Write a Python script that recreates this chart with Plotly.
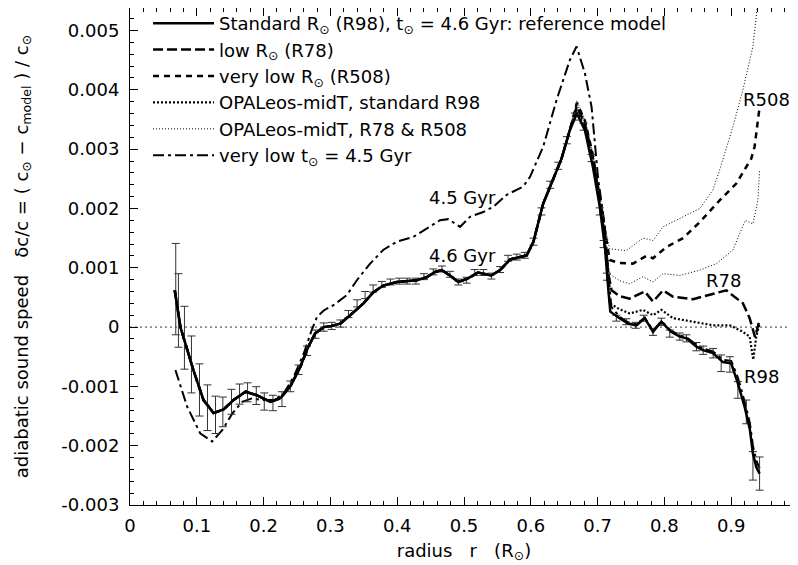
import plotly.graph_objects as go

# ---------------- data (dc values in units of 1e-3) ----------------
# shared inner part (all non-4.5Gyr models coincide here)
r_core = [0.067, 0.0755, 0.095, 0.110, 0.125, 0.140, 0.155, 0.173, 0.190, 0.210, 0.225,
          0.240, 0.255, 0.267, 0.277, 0.290, 0.302, 0.315, 0.3296, 0.3495, 0.3644, 0.3794,
          0.3994, 0.4293, 0.444, 0.4567, 0.4667, 0.479, 0.4915, 0.506, 0.521, 0.541, 0.554,
          0.569, 0.594, 0.604, 0.6185, 0.6335, 0.646, 0.6584]
dc_core = [0.62, 0.00, -0.73, -1.23, -1.45, -1.39, -1.23, -1.09, -1.15, -1.26, -1.20,
           -1.00, -0.67, -0.33, -0.11, 0.00, 0.02, 0.06, 0.20, 0.40, 0.59, 0.70,
           0.76, 0.79, 0.84, 0.93, 0.96, 0.87, 0.76, 0.82, 0.92, 0.87, 0.96,
           1.14, 1.21, 1.44, 2.08, 2.50, 2.84, 3.32]

# standard model (R98, 4.6 Gyr) outer part
r_std_tail = [0.669, 0.681, 0.693, 0.7033, 0.711, 0.7157, 0.719, 0.733, 0.7456, 0.758, 0.7706,
              0.783, 0.7955, 0.810, 0.823, 0.833, 0.848, 0.8577, 0.8727, 0.8876, 0.900, 0.910,
              0.920, 0.928, 0.9325, 0.9375, 0.9425]
dc_std_tail = [3.60, 3.32, 2.70, 2.03, 1.35, 0.68, 0.26, 0.15, 0.06, 0.03, 0.15,
               -0.08, 0.09, -0.08, -0.16, -0.19, -0.33, -0.39, -0.44, -0.59, -0.61, -0.95,
               -1.34, -1.73, -2.13, -2.36, -2.47]

# low R (R78)
r_r78_tail = [0.669, 0.681, 0.693, 0.703, 0.711, 0.716, 0.721, 0.733, 0.748, 0.7706, 0.783,
              0.798, 0.813, 0.843, 0.873, 0.8927, 0.9175, 0.9276, 0.9357, 0.9425]
dc_r78_tail = [3.72, 3.42, 2.85, 2.15, 1.45, 0.90, 0.62, 0.52, 0.48, 0.60, 0.43,
               0.62, 0.51, 0.47, 0.56, 0.62, 0.40, 0.15, -0.17, 0.12]

# very low R (R508)
r_r508_tail = [0.669, 0.681, 0.693, 0.703, 0.711, 0.718, 0.733, 0.753, 0.773, 0.783, 0.803,
               0.828, 0.853, 0.883, 0.9076, 0.930, 0.935, 0.940, 0.9425]
dc_r508_tail = [3.78, 3.48, 2.90, 2.20, 1.60, 1.13, 1.08, 1.07, 1.20, 1.16, 1.35,
                1.50, 1.77, 2.14, 2.42, 2.84, 3.04, 3.55, 3.71]

# OPALeos-midT, standard R98
r_opal98_tail = [0.669, 0.681, 0.693, 0.703, 0.711, 0.716, 0.718, 0.733, 0.748, 0.768, 0.783,
                 0.7955, 0.813, 0.843, 0.873, 0.898, 0.9175, 0.9276, 0.933, 0.9375, 0.9425]
dc_opal98_tail = [3.65, 3.36, 2.75, 2.07, 1.38, 0.70, 0.40, 0.30, 0.23, 0.29, 0.20,
                  0.29, 0.15, 0.09, 0.03, 0.03, -0.08, -0.16, -0.55, -0.16, 0.06]

# OPALeos-midT, R78
r_opal78_tail = [0.669, 0.681, 0.693, 0.703, 0.711, 0.718, 0.733, 0.748, 0.768, 0.783, 0.798,
                 0.823, 0.853, 0.878, 0.9026, 0.921, 0.9325, 0.940, 0.9425]
dc_opal78_tail = [3.75, 3.45, 2.88, 2.18, 1.50, 0.90, 0.78, 0.73, 0.85, 0.76, 0.90,
                  0.87, 0.96, 1.07, 1.30, 1.80, 1.74, 2.14, 2.65]

# OPALeos-midT, R508
r_opal508_tail = [0.669, 0.681, 0.693, 0.703, 0.711, 0.718, 0.743, 0.768, 0.783, 0.798, 0.833,
                  0.853, 0.8727, 0.8827, 0.9026, 0.9175, 0.9325, 0.9375, 0.941]
dc_opal508_tail = [3.82, 3.50, 2.92, 2.25, 1.70, 1.32, 1.29, 1.50, 1.46, 1.69, 1.89,
                   2.00, 2.31, 2.65, 3.38, 4.00, 4.73, 5.29, 5.60]

# very low age t = 4.5 Gyr
r_45 = [0.068, 0.0855, 0.105, 0.123, 0.138, 0.153, 0.168, 0.183, 0.1976, 0.215, 0.230,
        0.245, 0.260, 0.272, 0.280, 0.290, 0.3046, 0.3247, 0.3396, 0.3595, 0.379, 0.3994,
        0.424, 0.444, 0.464, 0.4765, 0.494, 0.509, 0.529, 0.544, 0.564, 0.5886, 0.5987,
        0.6185, 0.6386, 0.6584, 0.6685, 0.681, 0.691, 0.7008, 0.711, 0.7157, 0.7206,
        0.733, 0.7456, 0.758, 0.7706, 0.783, 0.7955, 0.810, 0.823, 0.833, 0.848, 0.8577,
        0.8727, 0.8876, 0.900, 0.910, 0.920, 0.928, 0.9325, 0.9375, 0.9425]
dc_45 = [-0.725, -1.34, -1.79, -1.93, -1.74, -1.46, -1.26, -1.20, -1.23, -1.23, -1.12,
         -0.84, -0.45, -0.05, 0.17, 0.28, 0.37, 0.54, 0.79, 1.07, 1.30, 1.44,
         1.52, 1.66, 1.80, 1.82, 1.69, 1.86, 1.94, 2.03, 2.23, 2.37, 2.53,
         3.04, 3.83, 4.50, 4.73, 4.28, 3.71, 2.50, 1.69, 0.96, 0.34,
         0.17, 0.08, 0.05, 0.16, -0.06, 0.10, -0.06, -0.14, -0.17, -0.30, -0.36,
         -0.41, -0.55, -0.57, -0.85, -1.25, -1.62, -2.00, -2.25, -2.38]

# helioseismic data points with error bars
r_obs = [0.0685, 0.0725, 0.0815, 0.092, 0.104, 0.116, 0.128, 0.139, 0.152, 0.164, 0.176,
         0.189, 0.201, 0.214, 0.2275, 0.240, 0.2525, 0.265, 0.2775, 0.290, 0.302, 0.315,
         0.327, 0.340, 0.352, 0.364, 0.377, 0.390, 0.403, 0.415, 0.428, 0.440, 0.454,
         0.467, 0.479, 0.4915, 0.504, 0.516, 0.529, 0.541, 0.554, 0.566, 0.579, 0.591,
         0.604, 0.616, 0.629, 0.641, 0.654, 0.666, 0.679, 0.691, 0.7033, 0.709, 0.714,
         0.728, 0.743, 0.757, 0.769, 0.783, 0.7955, 0.808, 0.823, 0.833, 0.848, 0.858,
         0.873, 0.885, 0.898, 0.910, 0.9226, 0.9325, 0.9425]
dc_obs = [0.64, 0.28, -0.18, -0.63, -1.06, -1.36, -1.48, -1.43, -1.26, -1.13, -1.10,
          -1.155, -1.255, -1.28, -1.215, -1.00, -0.72, -0.40, -0.12, 0.00, 0.02, 0.06,
          0.22, 0.40, 0.54, 0.65, 0.72, 0.76, 0.775, 0.775, 0.775, 0.85, 0.93,
          0.98, 0.89, 0.76, 0.79, 0.92, 0.92, 0.86, 0.97, 1.16, 1.18, 1.21,
          1.44, 1.95, 2.40, 2.72, 3.15, 3.55, 3.38, 2.85, 1.95, 1.40, 0.85,
          0.15, 0.09, 0.03, 0.15, -0.08, 0.09, -0.11, -0.16, -0.19, -0.33, -0.39,
          -0.44, -0.61, -0.63, -1.06, -1.43, -2.34, -2.47]
err_obs = [0.77, 0.62, 0.53, 0.48, 0.44, 0.385, 0.315, 0.25, 0.21, 0.17, 0.16,
           0.15, 0.145, 0.13, 0.125, 0.09, 0.08, 0.08, 0.07, 0.07, 0.06, 0.06,
           0.06, 0.06, 0.06, 0.06, 0.05, 0.05, 0.05, 0.05, 0.05, 0.05, 0.05,
           0.05, 0.05, 0.05, 0.05, 0.05, 0.05, 0.05, 0.05, 0.05, 0.05, 0.05,
           0.06, 0.06, 0.06, 0.06, 0.06, 0.06, 0.06, 0.06, 0.06, 0.06, 0.06,
           0.05, 0.05, 0.05, 0.05, 0.06, 0.06, 0.06, 0.06, 0.06, 0.07, 0.07,
           0.08, 0.14, 0.13, 0.14, 0.20, 0.24, 0.28]

y_tickvals = [-0.003, -0.002, -0.001, 0, 0.001, 0.002, 0.003, 0.004, 0.005]
y_ticktext = ["-0.003", "-0.002", "-0.001", "0", "0.001", "0.002", "0.003", "0.004", "0.005"]
x_tickvals = [0, 0.1, 0.2, 0.3, 0.4, 0.5, 0.6, 0.7, 0.8, 0.9, 1.0]
x_ticktext = ["0", "0.1", "0.2", "0.3", "0.4", "0.5", "0.6", "0.7", "0.8", "0.9", "1"]

S = 1e-3
def sc(v):
    return [a * S for a in v]

FONT = "DejaVu Sans, Liberation Sans, Arial, sans-serif"
SUN = "\u2299"
NB = "\u00a0"

fig = go.Figure()

def add_line(x, y, name, dash, width, group):
    fig.add_trace(go.Scatter(x=x, y=sc(y), mode="lines", name=name,
                             line=dict(color="black", width=width, dash=dash),
                             showlegend=False, legendgroup=group, hoverinfo="skip"))

# order of drawing: thin first, solid on top
add_line(r_core + r_opal508_tail, dc_core + dc_opal508_tail,
         "OPALeos-midT, R508", "1px,2px", 1, "opal78")
add_line(r_core + r_opal78_tail, dc_core + dc_opal78_tail,
         "OPALeos-midT, R78", "1px,2px", 1, "opal78")
add_line(r_core + r_opal98_tail, dc_core + dc_opal98_tail,
         "OPALeos-midT, standard R98", "2px,2px", 2.2, "opal98")
add_line(r_core + r_r508_tail, dc_core + dc_r508_tail,
         "very low R (R508)", "6px,5px", 2.5, "r508")
add_line(r_core + r_r78_tail, dc_core + dc_r78_tail,
         "low R (R78)", "10px,4px", 2.5, "r78")
add_line(r_45, dc_45, "very low t = 4.5 Gyr", "11px,4px,3px,4px", 2, "t45")

fig.add_trace(go.Scatter(x=r_obs, y=sc(dc_obs), mode="markers", showlegend=False,
                         marker=dict(size=1, color="rgba(0,0,0,0)"),
                         error_y=dict(type="data", array=sc(err_obs), visible=True,
                                      color="#333333", thickness=1, width=4),
                         hoverinfo="skip"))

add_line(r_core + r_std_tail, dc_core + dc_std_tail, "Standard", "solid", 2.5, "std")

# legend entries (in reference order)
legend_items = [
    (f"Standard R<sub>{SUN}</sub> (R98), t<sub>{SUN}</sub> = 4.6 Gyr: reference model", "solid", 2.5),
    (f"low R<sub>{SUN}</sub> (R78)", "10px,4px", 2.5),
    (f"very low R<sub>{SUN}</sub> (R508)", "6px,5px", 2.5),
    ("OPALeos-midT, standard R98", "2px,2px", 2.2),
    ("OPALeos-midT, R78 &amp; R508", "1px,2px", 1),
    (f"very low t<sub>{SUN}</sub> = 4.5 Gyr", "11px,4px,3px,4px", 2),
]
for i, (nm, ds, w) in enumerate(legend_items):
    fig.add_trace(go.Scatter(x=[None], y=[None], mode="lines", name=nm,
                             line=dict(color="black", width=w, dash=ds),
                             legendgroup=f"leg{i}", showlegend=True))

fig.add_hline(y=0, line=dict(color="#333333", width=1, dash="2px,3px"), layer="below")

ann_font = dict(family=FONT, size=18, color="black")
for txt, ax, ay in [("4.5 Gyr", 0.498, 2.19), ("4.6 Gyr", 0.497, 1.20), ("R508", 0.953, 3.84),
                    ("R78", 0.888, 0.78), ("R98", 0.945, -0.83)]:
    fig.add_annotation(x=ax, y=ay * S, text=txt, showarrow=False, font=ann_font,
                       xanchor="center", yanchor="middle")

axis_common = dict(showline=True, linecolor="black", linewidth=1, mirror="allticks",
                   ticks="inside", tickcolor="black", tickwidth=1, ticklen=8,
                   showgrid=False, zeroline=False, automargin=False,
                   tickfont=dict(family=FONT, size=18, color="black"))

fig.update_layout(
    width=798, height=565,
    margin=dict(l=122, r=8, t=0, b=68, autoexpand=False),
    paper_bgcolor="white", plot_bgcolor="white",
    font=dict(family=FONT, size=18, color="black"),
    showlegend=True,
    legend=dict(x=0.027, y=1.006, xanchor="left", yanchor="top", bgcolor="rgba(0,0,0,0)",
                font=dict(family=FONT, size=18, color="black"), tracegroupgap=0,
                itemwidth=61),
    xaxis=dict(range=[0, 1], tickvals=x_tickvals, ticktext=x_ticktext,
               ticklabelstandoff=4,
               minor=dict(tickmode="linear", tick0=0, dtick=0.02, ticks="inside", ticklen=4,
                          tickcolor="black", showgrid=False),
               title=dict(text=f"radius{NB*3}r{NB*3}(R<sub>{SUN}</sub>)",
                          font=dict(family=FONT, size=18), standoff=9),
               **axis_common),
    yaxis=dict(range=[-0.003, 0.00538], tickvals=y_tickvals, ticktext=y_ticktext,
               ticklabelstandoff=6,
               minor=dict(tickmode="linear", tick0=0, dtick=0.0002, ticks="inside", ticklen=4,
                          tickcolor="black", showgrid=False),
               title=dict(text=f"adiabatic sound speed{NB*3}δc/c = ( c<sub>{SUN}</sub> − c<sub>model</sub> ) / c<sub>{SUN}</sub>",
                          font=dict(family=FONT, size=18), standoff=28),
               **axis_common),
)

fig.write_html("out.html")
